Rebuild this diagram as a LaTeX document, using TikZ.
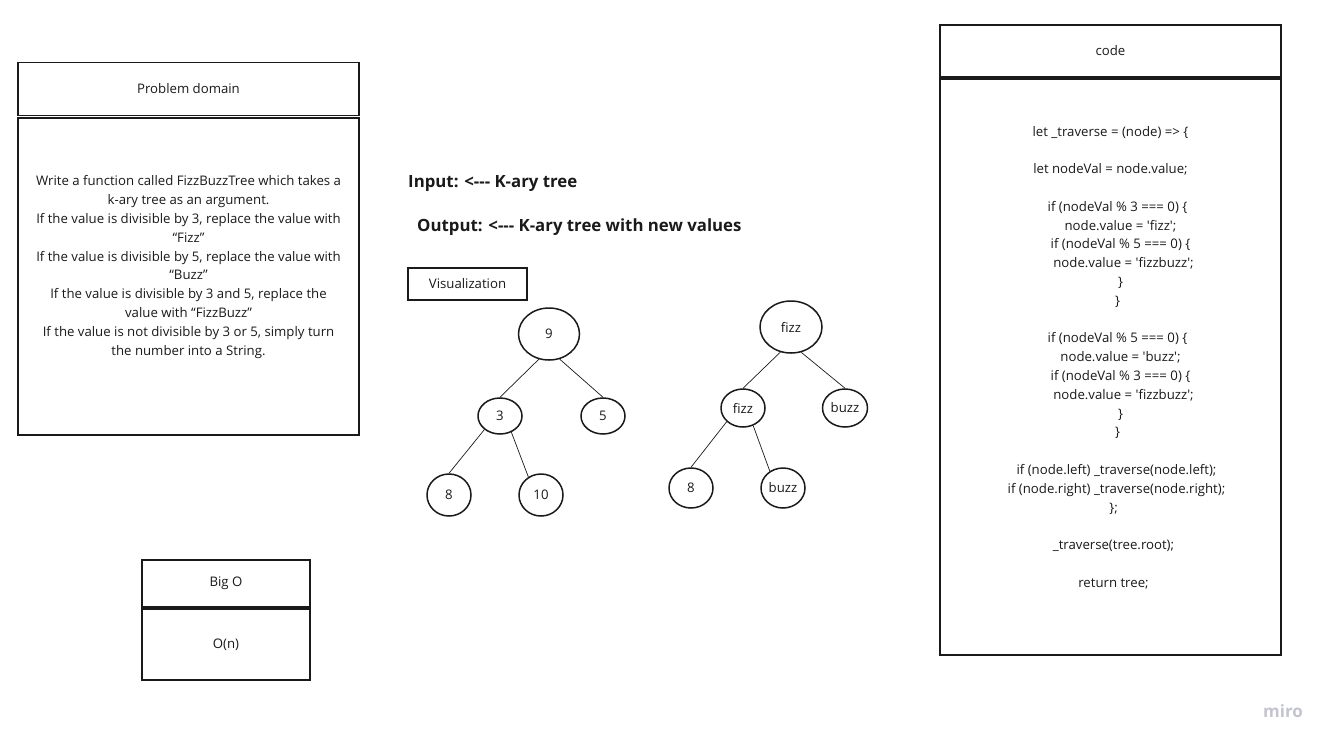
\documentclass[tikz,border=0pt]{standalone}
\usepackage{fontspec}
\setmainfont{Open Sans}[Ligatures=TeXOff]
\usetikzlibrary{positioning,shapes.geometric}

\definecolor{ink}{HTML}{1A1A1A}
\definecolor{mirogray}{HTML}{C4C4D0}

\tikzset{
  box/.style={draw=ink, line width=1.8pt, inner sep=0pt},
  tnode/.style={draw=ink, line width=1.5pt, ellipse, inner sep=0pt},
  edge/.style={draw=ink, line width=0.7pt},
  title/.style={font=\fontsize{16.8}{21}\selectfont\bfseries, text=ink, anchor=west, inner sep=0pt}
}
\newcommand{\ind}[1]{\hspace*{#1pt}}

\begin{document}
\begin{tikzpicture}[x=1pt, y=-1pt, font=\fontsize{13.2}{18.8}\selectfont, text=ink]
  \useasboundingbox[fill=white] (0,0) rectangle (1335,748);

  % Problem domain
  \node[box, minimum width=341pt, minimum height=53pt] (pdhead) at (188.5,89) {Problem domain};
  \node[box, minimum width=341pt, minimum height=317pt] (pdbody) at (188.5,276.5) {};
  \node[align=center] (pdtext) at (188.5,267) {Write a function called FizzBuzzTree which takes a\\
    k-ary tree as an argument.\\
    If the value is divisible by 3, replace the value with\\
    “Fizz”\\
    If the value is divisible by 5, replace the value with\\
    “Buzz”\\
    If the value is divisible by 3 and 5, replace the\\
    value with “FizzBuzz”\\
    If the value is not divisible by 3 or 5, simply turn\\
    the number into a String.};

  % Big O
  \node[box, minimum width=168pt, minimum height=47pt] (bighead) at (226,583.5) {Big O};
  \node[box, minimum width=168pt, minimum height=71pt] (bigbody) at (226,644.5) {O(n)};

  % Input / output
  \node[title] (input) at (408,183.5) {Input: <--- K-ary tree};
  \node[title] (output) at (417,227.5) {Output: <--- K-ary tree with new values};
  \node[box, minimum width=119pt, minimum height=32pt] (vis) at (467.5,284) {Visualization};

  % Input tree
  \node[tnode, minimum width=61pt, minimum height=52pt] (n9) at (549,334) {9};
  \node[tnode, minimum width=44pt, minimum height=36pt] (n3) at (500,416) {3};
  \node[tnode, minimum width=44pt, minimum height=36pt] (n5) at (603,416) {5};
  \node[tnode, minimum width=44pt, minimum height=42pt] (n8) at (449,495) {8};
  \node[tnode, minimum width=44pt, minimum height=42pt] (n10) at (541,495) {10};
  \draw[edge] (n9.248) -- (n3.north);
  \draw[edge] (n9.293) -- (n5.north);
  \draw[edge] (n3.221) -- (n8.north);
  \draw[edge] (n3.305) -- (n10.125);

  % Output tree
  \node[tnode, minimum width=62pt, minimum height=52pt] (fz) at (791,327) {fizz};
  \node[tnode, minimum width=44pt, minimum height=38pt] (fzl) at (743,408) {fizz};
  \node[tnode, minimum width=45pt, minimum height=38pt] (bzr) at (845,408) {buzz};
  \node[tnode, minimum width=44pt, minimum height=40pt] (e8) at (691,488) {8};
  \node[tnode, minimum width=44pt, minimum height=40pt] (bzl) at (783,488) {buzz};
  \draw[edge] (fz.247) -- (fzl.north);
  \draw[edge] (fz.292) -- (bzr.north);
  \draw[edge] (fzl.220) -- (e8.north);
  \draw[edge] (fzl.300) -- (bzl.128);

  % code
  \node[box, minimum width=341pt, minimum height=52pt] (codehead) at (1110.5,51) {code};
  \node[box, minimum width=341pt, minimum height=576pt] (codebody) at (1110.5,367) {};
  \node[align=center] (codetext) at (1110.5,357.5) {let \_traverse = (node) => \{\\[18.8pt]
    let nodeVal = node.value;\\[18.8pt]
    \ind{14}if (nodeVal \% 3 === 0) \{\\
    \ind{20}node.value = 'fizz';\\
    \ind{20}if (nodeVal \% 5 === 0) \{\\
    \ind{26}node.value = 'fizzbuzz';\\
    \ind{20}\}\\
    \ind{14}\}\\[18.8pt]
    \ind{14}if (nodeVal \% 5 === 0) \{\\
    \ind{20}node.value = 'buzz';\\
    \ind{20}if (nodeVal \% 3 === 0) \{\\
    \ind{26}node.value = 'fizzbuzz';\\
    \ind{20}\}\\
    \ind{14}\}\\[18.8pt]
    \ind{12}if (node.left) \_traverse(node.left);\\
    \ind{12}if (node.right) \_traverse(node.right);\\
    \ind{6}\};\\[18.8pt]
    \ind{6}\_traverse(tree.root);\\[18.8pt]
    \ind{6}return tree;};

  % watermark
  \node[font=\fontsize{17}{20}\selectfont\bfseries, text=mirogray] (miro) at (1283,711) {miro};
\end{tikzpicture}
\end{document}
